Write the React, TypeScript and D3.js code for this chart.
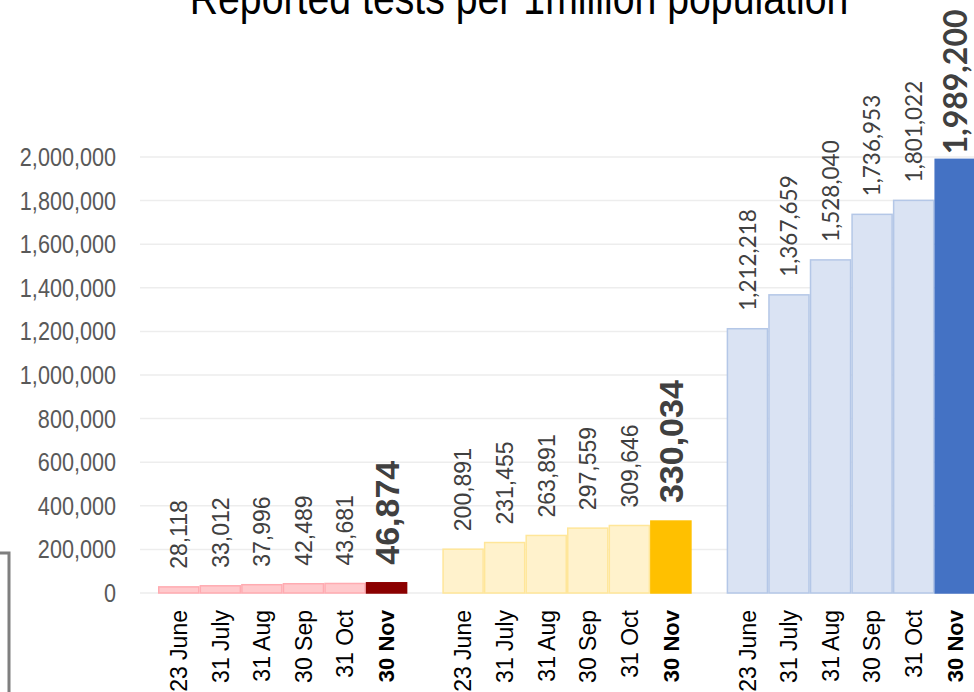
import React from "react";
import * as d3 from "d3";

// Data
const groups = ["low", "mid", "high"];
const dates = ["23 June", "31 July", "31 Aug", "30 Sep", "31 Oct", "30 Nov"];
const lowValues = [28118, 33012, 37996, 42489, 43681, 46874];
const midValues = [200891, 231455, 263891, 297559, 309646, 330034];
const highValues = [1212218, 1367659, 1528040, 1736953, 1801022, 1989200];
const yTicks = [0, 200000, 400000, 600000, 800000, 1000000, 1200000, 1400000, 1600000, 1800000, 2000000];

const seriesValues = [lowValues, midValues, highValues];

// styles per group
const palette = [
  { fill: "#FFC9CC", stroke: "#FFABB1", strong: "#8B0000", font: "'Liberation Sans', Arial, sans-serif" },
  { fill: "#FFF2CC", stroke: "#FFE699", strong: "#FFC000", font: "'Liberation Sans', Arial, sans-serif" },
  { fill: "#DAE3F3", stroke: "#B4C7E7", strong: "#4472C4", font: "Lato, 'Open Sans', sans-serif" },
];

const W = 974, H = 692;
const sans = "'Liberation Sans', Arial, sans-serif";

const App = () => {
  const x0 = d3.scaleBand().domain(groups).range([158, 976]).paddingInner(0.123);
  const x1 = d3.scaleBand().domain(dates).range([0, x0.bandwidth()]);
  const y = d3.scaleLinear().domain([0, 2000000]).range([593, 157]);
  const fmt = d3.format(",");

  return (
    <svg width={W} height={H} style={{ position: "absolute", left: 0, top: 0, display: "block", background: "#fff" }}>
      {/* title, cropped at the top; condensed like the original */}
      <text transform="translate(519,14) scale(0.835,1)" textAnchor="middle" fontFamily={sans}
        fontSize={47} fill="#000">Reported tests per 1million population</text>

      {/* gridlines */}
      {yTicks.map(t => (
        <line key={t} x1={140} x2={W} y1={y(t)} y2={y(t)} stroke="#EDEDED" strokeWidth={1.5} />
      ))}

      {/* y axis labels (condensed) */}
      {yTicks.map(t => (
        <text key={"l" + t} transform={`translate(116,${y(t)}) scale(0.865,1)`} dy="0.36em" textAnchor="end"
          fontFamily={sans} fontSize={25} fill="#595959">
          {fmt(t)}
        </text>
      ))}

      {/* bars */}
      {groups.map((g, gi) => {
        const vals = seriesValues[gi];
        const pal = palette[gi];
        return (
          <g key={g} transform={`translate(${x0(g)},0)`}>
            {vals.map((v, i) => {
              const last = i === vals.length - 1;
              const bx = x1(dates[i])!;
              return (
                <rect key={i} x={bx + 0.75} y={y(v)} width={x1.bandwidth() - 1.5} height={y(0) - y(v)}
                  fill={last ? pal.strong : pal.fill} stroke={last ? pal.strong : pal.stroke} strokeWidth={1.5} />
              );
            })}
            {vals.map((v, i) => {
              const last = i === vals.length - 1;
              const cx = x1(dates[i])! + x1.bandwidth() / 2;
              const size = last ? (gi === 2 ? 32 : 34) : (gi === 2 ? 22.5 : 23);
              const gap = last && gi === 2 ? 5 : 18;
              return (
                <text key={"v" + i} transform={`translate(${cx},${y(v) - gap}) rotate(-90)`} dy="0.36em"
                  textAnchor="start" fontFamily={pal.font} fontSize={size} fontWeight={last ? "bold" : "normal"}
                  fill="#404040">
                  {fmt(v)}
                </text>
              );
            })}
            {dates.map((d, i) => {
              const last = i === dates.length - 1;
              const cx = x1(d)! + x1.bandwidth() / 2;
              return (
                <text key={"c" + i} transform={`translate(${cx},610) rotate(-90)`} dy="0.36em" textAnchor="end"
                  fontFamily={sans} fontSize={last ? 22 : 23}
                  fontWeight={last ? "bold" : "normal"} fill="#000">
                  {d}
                </text>
              );
            })}
          </g>
        );
      })}

      {/* corner of a neighbouring box at the left edge */}
      <path d="M0,553 H9 V692" fill="none" stroke="#7F7F7F" strokeWidth={3} />
    </svg>
  );
};

export default App;
